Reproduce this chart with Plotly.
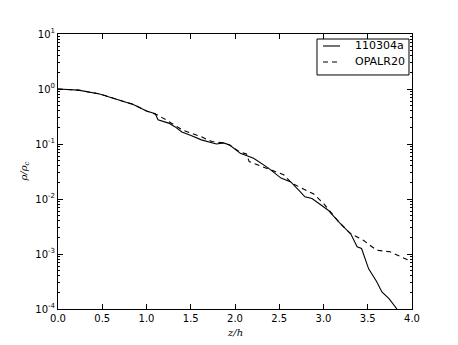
import plotly.graph_objects as go

# 110304a (solid) : z/h and log10(rho/rho_c)
z_a = [0, 0.23, 0.47, 0.66, 0.85, 1.0, 1.1, 1.13, 1.25, 1.32, 1.40, 1.51, 1.62, 1.79, 1.87, 1.94,
       2.06, 2.21, 2.37, 2.52, 2.63, 2.72, 2.79, 2.87, 3.0, 3.05, 3.18, 3.31, 3.38, 3.43,
       3.51, 3.60, 3.66, 3.74, 3.83]
logrho_a = [0, -0.02, -0.09, -0.18, -0.28, -0.40, -0.45, -0.56, -0.62, -0.685, -0.78, -0.85, -0.925,
            -1.0, -0.98, -1.02, -1.17, -1.26, -1.43, -1.62, -1.69, -1.84, -1.96, -1.99, -2.15,
            -2.2, -2.43, -2.64, -2.87, -2.90, -3.27, -3.50, -3.69, -3.81, -4.0]

# OPALR20 (dashed)
z_b = [0, 0.23, 0.47, 0.66, 0.85, 1.0, 1.12, 1.22, 1.41, 1.62, 1.74, 1.87, 1.94, 2.06, 2.13,
       2.16, 2.40, 2.55, 2.64, 2.75, 2.89, 3.0, 3.09, 3.18, 3.30, 3.45, 3.60, 3.75, 3.96]
logrho_b = [0, -0.02, -0.09, -0.18, -0.28, -0.40, -0.47, -0.56, -0.75, -0.87, -0.955, -0.98, -1.02,
            -1.15, -1.18, -1.32, -1.47, -1.56, -1.71, -1.80, -1.91, -2.08, -2.26, -2.43, -2.62,
            -2.75, -2.93, -2.96, -3.11]

series_names = ["110304a", "OPALR20"]

rho_a = [10 ** v for v in logrho_a]
rho_b = [10 ** v for v in logrho_b]

x_ticks = [0, 0.5, 1.0, 1.5, 2.0, 2.5, 3.0, 3.5, 4.0]
x_ticktext = ["0.0", "0.5", "1.0", "1.5", "2.0", "2.5", "3.0", "3.5", "4.0"]
y_ticks = [1e-4, 1e-3, 1e-2, 1e-1, 1, 10]
y_ticktext = ["10<sup>-4</sup>", "10<sup>-3</sup>", "10<sup>-2</sup>", "10<sup>-1</sup>",
              "10<sup>0</sup>", "10<sup>1</sup>"]
y_minor = [m * 10 ** e for e in range(-4, 1) for m in range(2, 10)]

DASH = "5px,4px"

fig = go.Figure()
fig.add_trace(go.Scatter(x=z_a, y=rho_a, mode="lines", name=series_names[0],
                         line=dict(color="black", width=1.1)))
fig.add_trace(go.Scatter(x=z_b, y=rho_b, mode="lines", name=series_names[1],
                         line=dict(color="black", width=1.1, dash=DASH)))

fig.update_layout(
    width=450, height=337, autosize=False,
    margin=dict(l=50, r=46, t=26, b=36),
    paper_bgcolor="white", plot_bgcolor="white",
    font=dict(family="DejaVu Sans", size=10, color="black"),
    showlegend=False,
)
fig.update_xaxes(range=[0, 4], tickvals=x_ticks, ticktext=x_ticktext,
                 showgrid=False, zeroline=False, showline=True, linecolor="black",
                 linewidth=1, mirror="allticks", ticks="inside", ticklen=5,
                 tickcolor="black")
fig.update_yaxes(type="log", range=[-4, 1], tickvals=y_ticks, ticktext=y_ticktext,
                 showgrid=False, zeroline=False, showline=True, linecolor="black",
                 linewidth=1, mirror="allticks", ticks="inside", ticklen=5,
                 tickcolor="black",
                 minor=dict(tickvals=y_minor, ticks="inside", ticklen=2,
                            tickcolor="black", showgrid=False))

# legend box (matplotlib-style)
fig.add_shape(type="rect", xref="paper", yref="paper", x0=0.7316, x1=0.9915,
              y0=0.851, y1=0.9818, line=dict(color="black", width=1), fillcolor="white",
              layer="above")
row_y = [0.9564, 0.8982]
dashes = ["solid", DASH]
for name, yy, d in zip(series_names, row_y, dashes):
    fig.add_shape(type="line", xref="paper", yref="paper", x0=0.7486, x1=0.7966,
                  y0=yy, y1=yy, line=dict(color="black", width=1.1, dash=d), layer="above")
    fig.add_annotation(text=name, x=0.8333, y=yy, xref="paper", yref="paper",
                       xanchor="left", yanchor="middle", showarrow=False,
                       font=dict(size=11))

fig.add_annotation(text="<i>z/h</i>", x=0.5, y=-0.084, xref="paper", yref="paper",
                   xanchor="center", yanchor="middle", showarrow=False,
                   font=dict(family="DejaVu Serif", size=10))
fig.add_annotation(text="<i>ρ/ρ<sub>c</sub></i>", x=-0.096, y=0.5, xref="paper", yref="paper",
                   xanchor="center", yanchor="middle", showarrow=False, textangle=-90,
                   font=dict(family="DejaVu Serif", size=10))

fig.write_html("out.html")
